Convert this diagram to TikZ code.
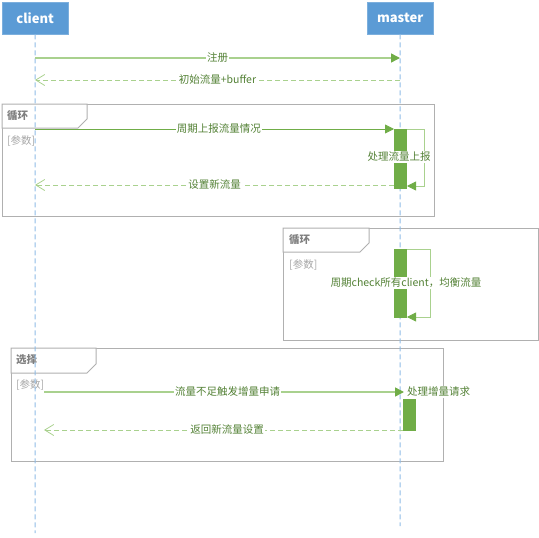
\documentclass[tikz,border=0pt]{standalone}
\usepackage{fontspec}
\setmainfont{Noto Sans CJK SC}
\usetikzlibrary{arrows.meta}
\definecolor{hdr}{HTML}{5B9BD5}
\definecolor{life}{HTML}{8FBCE6}
\definecolor{lgreen}{HTML}{A9D18E}
\definecolor{dgreen}{HTML}{70AD47}
\definecolor{tgreen}{HTML}{538135}
\definecolor{frameg}{HTML}{B0B0B0}
\definecolor{ftext}{HTML}{7F7F7F}
\definecolor{ptext}{HTML}{A6A6A6}
\begin{document}
\begin{tikzpicture}[x=1pt,y=-1pt,
  font=\fontsize{10.5}{12}\selectfont,
  head/.style={fill=hdr, draw=hdr!80!white, text=white, font=\fontsize{13}{15}\selectfont\bfseries,
    minimum width=66pt, minimum height=32pt, inner sep=0pt, anchor=north west},
  lifeline/.style={draw=life, line width=1pt, dash pattern=on 5pt off 3pt},
  syncmsg/.style={draw=lgreen, line width=1.5pt, -{Triangle[length=9pt,width=9pt,fill=dgreen,color=dgreen]}},
  thinmsg/.style={draw=dgreen, line width=0.8pt, -{Triangle[length=9pt,width=9pt,fill=dgreen,color=dgreen]}},
  loopmsg/.style={draw=lgreen, line width=0.8pt, -{Triangle[length=9pt,width=9pt,fill=dgreen,color=dgreen]}},
  retmsg/.style={draw=lgreen, line width=0.9pt, dash pattern=on 5pt off 3pt, -{Straight Barb[length=9pt,width=11pt,line width=0.8pt]}},
  lbl/.style={fill=white, text=tgreen, inner sep=1pt},
  actbar/.style={fill=dgreen, draw=none, minimum width=13pt, inner sep=0pt, anchor=north west},
  frm/.style={draw=frameg, line width=1pt},
  tabtxt/.style={text=ftext, font=\fontsize{10.5}{12}\selectfont\bfseries, anchor=west, inner sep=0pt},
  partxt/.style={text=ptext, anchor=west, inner sep=0pt}]
\useasboundingbox (0,0) rectangle (539,538);

% frames
\draw[frm] (2,104) rectangle (434,216);
\draw[frm, fill=white] (2,104) -- (87,104) -- (87,119) -- (78,128) -- (2,128) -- cycle;
\node[tabtxt] (t1) at (7,116) {循环};
\node[partxt] (p1) at (7,141) {[参数]};

\draw[frm] (283,228) rectangle (538,340);
\draw[frm, fill=white] (283,228) -- (369,228) -- (369,243) -- (360,252) -- (283,252) -- cycle;
\node[tabtxt] (t2) at (289,240) {循环};
\node[partxt] (p2) at (289,265) {[参数]};

\draw[frm] (11,348) rectangle (443,461);
\draw[frm, fill=white] (11,348) -- (96,348) -- (96,364) -- (87,373) -- (11,373) -- cycle;
\node[tabtxt] (t3) at (16,360) {选择};
\node[partxt] (p3) at (16,385) {[参数]};

% heads and lifelines
\node[head] (client) at (2,2) {client};
\node[head] (master) at (367,2) {master};
\coordinate (cend) at (35,533);
\coordinate (mend) at (400,526);
\draw[lifeline] (client.south) -- (cend);
\draw[lifeline] (master.south) -- (mend);

% activation bars
\node[actbar, minimum height=60pt] (act1) at (394,129) {};
\node[actbar, minimum height=69pt] (act2) at (394,249) {};
\node[actbar, minimum height=32pt] (act3) at (403,399) {};

% message endpoints
\coordinate (c1) at (35,58);  \coordinate (m1) at (400,58);
\coordinate (c2) at (35,80);  \coordinate (m2) at (400,80);
\coordinate (c3) at (35,129);
\coordinate (c4) at (35,185); \coordinate (m4) at (394,185);
\coordinate (l1) at (407,186);
\coordinate (l2) at (407,317);
\coordinate (c5) at (44,392); \coordinate (m5) at (404,392);
\coordinate (c6) at (44,430); \coordinate (m6) at (403,430);

\draw[syncmsg] (c1) -- (m1) node[lbl, midway] (n1) {注册};
\draw[retmsg] (m2) -- (c2) node[lbl, midway] (n2) {初始流量+buffer};
\draw[thinmsg] (c3) -- (act1.north west) node[lbl, pos=0.512] (n3) {周期上报流量情况};
\draw[loopmsg] (act1.north east) -- ++(17,0) |- (l1);
\node[lbl] (n4) at (399,157) {处理流量上报};
\draw[retmsg] (m4) -- (c4) node[lbl, midway] (n5) {设置新流量};
\draw[loopmsg] (act2.north east) -- ++(23,0) |- (l2);
\node[lbl] (n6) at (406,283) {周期check所有client，均衡流量};
\draw[syncmsg] (c5) -- (m5) node[lbl, pos=0.51] (n7) {流量不足触发增量申请};
\node[lbl, anchor=west] (n8) at (406,392) {处理增量请求};
\draw[retmsg] (m6) -- (c6) node[lbl, pos=0.49] (n9) {返回新流量设置};
\end{tikzpicture}
\end{document}
